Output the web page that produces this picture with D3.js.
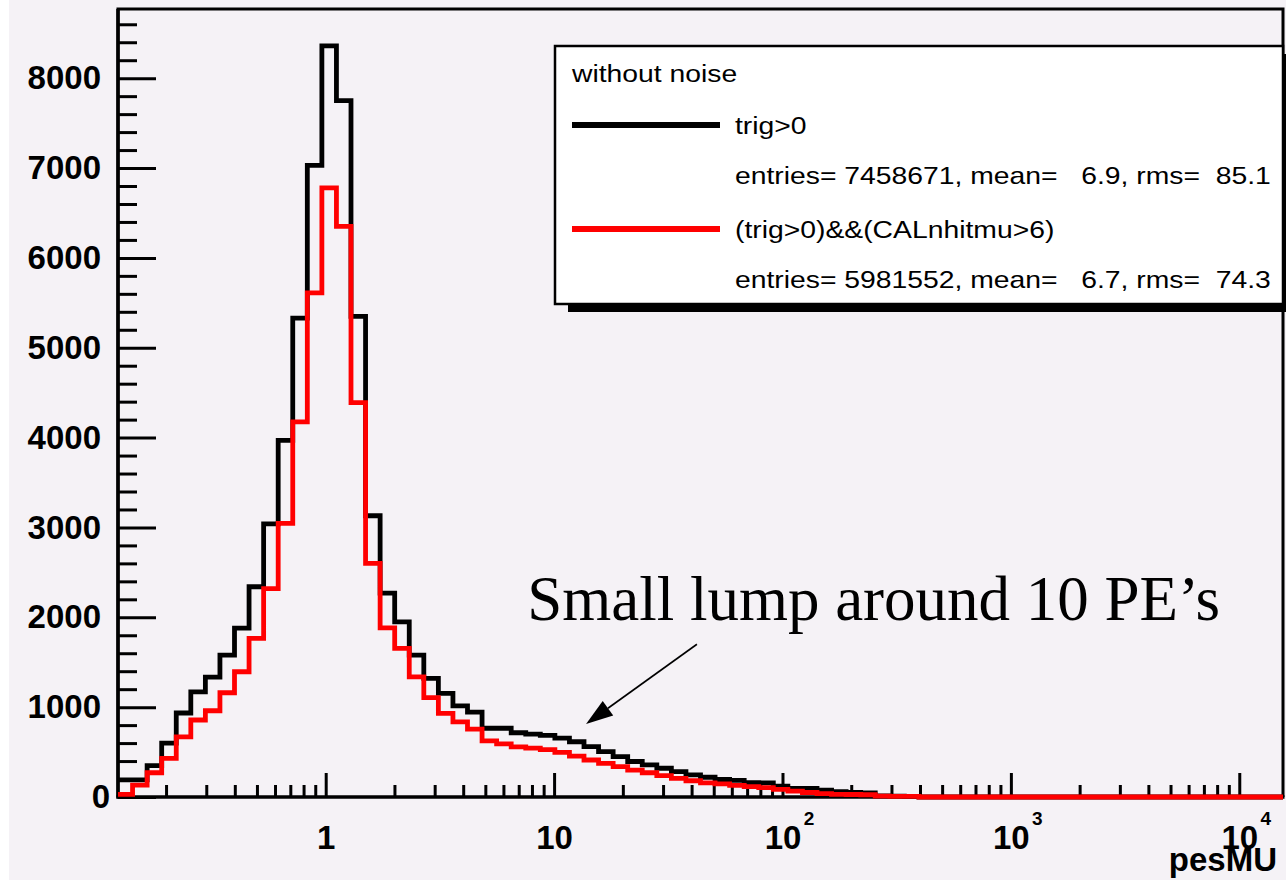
<!DOCTYPE html>
<html><head><meta charset="utf-8">
<script src="https://cdn.jsdelivr.net/npm/d3@7"></script>
<style>
html,body{margin:0;padding:0;background:#fff;}
svg{display:block;}
</style></head><body>
<svg id="chart" width="1286" height="880"></svg>
<script>
// ---------------- data ----------------
const binCount = 80;
const xRange = [0.1232, 15540];           // pesMU histogram range (log bins)
const yMax = 8770;

// bin contents, series "trig>0"
const trigValues = [
  190, 190, 350, 600, 935, 1170, 1335, 1580, 1880, 2340,
  3040, 3970, 5330, 7030, 8360, 7750, 5350, 3130, 2270, 1950,
  1580, 1320, 1153, 1015, 945, 765, 765, 715, 700, 685,
  655, 615, 560, 505, 450, 395, 358, 320, 283, 246,
  220, 195, 185, 160, 158, 122, 97, 95, 75, 60,
  52, 45, 12, 10, 8, 0, 0, 0, 0, 0,
  0, 0, 0, 0, 0, 0, 0, 0, 0, 0,
  0, 0, 0, 0, 0, 0, 0, 0, 0, 0
];
// bin contents, series "(trig>0)&&(CALnhitmu>6)"
const calValues = [
  30, 133, 270, 430, 670, 857, 960, 1160, 1394, 1765,
  2320, 3045, 4175, 5610, 6780, 6350, 4390, 2600, 1883, 1654,
  1338, 1105, 931, 835, 755, 625, 592, 557, 543, 527,
  497, 456, 412, 375, 337, 300, 270, 237, 208, 181,
  158, 145, 130, 115, 105, 85, 65, 50, 38, 30,
  28, 25, 10, 8, 6, 0, 0, 0, 0, 0,
  0, 0, 0, 0, 0, 0, 0, 0, 0, 0,
  0, 0, 0, 0, 0, 0, 0, 0, 0, 0
];

const yTickValues = [0, 1000, 2000, 3000, 4000, 5000, 6000, 7000, 8000];
const yMinorStep = 200;
const xTickValues = [1, 10, 100, 1000, 10000];
const xTickLabels = ["1", "10", "10", "10", "10"];
const xTickExponents = ["", "", "2", "3", "4"];
const xTitle = "pesMU";

const legendTitle = "without noise";
const seriesNames = ["trig>0", "(trig>0)&&(CALnhitmu>6)"];
const seriesStats = [
  "entries= 7458671, mean=   6.9, rms=  85.1",
  "entries= 5981552, mean=   6.7, rms=  74.3"
];
const seriesColors = ["#000000", "#ff0000"];

const annotationText = "Small lump around 10 PE\u2019s";
const annotationTextAt = [7.62, 1975];     // data coords of text start (baseline)
const arrowFrom = [42.2, 1700];            // data coords
const arrowTo = [13.8, 812];

// ---------------- layout ----------------
const W = 1286, H = 880;
const frame = {left: 118, right: 1283, top: 9, bottom: 797};
const SANS = "'Liberation Sans',Arial,Helvetica,sans-serif";
const SERIF = "'Liberation Serif','Times New Roman',Times,serif";

const svg = d3.select("#chart");
svg.append("rect").attr("x", 9).attr("y", 0).attr("width", W - 9).attr("height", H)
  .attr("fill", "#f5f2f6");

const x = d3.scaleLog().domain(xRange).range([frame.left, frame.right]);
const y = d3.scaleLinear().domain([0, yMax]).range([frame.bottom, frame.top]);

// bin edges (uniform in log)
const edges = d3.range(binCount + 1).map(k =>
  xRange[0] * Math.pow(xRange[1] / xRange[0], k / binCount));

svg.append("clipPath").attr("id", "clipFrame").append("rect")
  .attr("x", frame.left).attr("y", frame.top)
  .attr("width", frame.right - frame.left).attr("height", frame.bottom - frame.top + 3);

// ---------------- axes ----------------
const axisFont = 33;
// y major
const yAxisG = svg.append("g").attr("transform", `translate(${frame.left},0)`)
  .call(d3.axisLeft(y).tickValues(yTickValues).tickSize(-38).tickPadding(17).tickFormat(d3.format("d")));
yAxisG.select(".domain").remove();
yAxisG.selectAll(".tick line").attr("stroke", "#000").attr("stroke-width", 3);
yAxisG.selectAll(".tick text").attr("font-size", axisFont).attr("font-weight", "bold")
  .attr("fill", "#000").style("font-family", SANS)
  .attr("dx", d => d === 0 ? 9 : 0);
// y minor
const yMinor = d3.range(0, yMax, yMinorStep).filter(v => v % 1000 !== 0);
const yMinorG = svg.append("g").attr("transform", `translate(${frame.left},0)`)
  .call(d3.axisLeft(y).tickValues(yMinor).tickSize(-19).tickFormat(""));
yMinorG.select(".domain").remove();
yMinorG.selectAll(".tick line").attr("stroke", "#000").attr("stroke-width", 3);

// x major
const xAxisG = svg.append("g").attr("transform", `translate(0,${frame.bottom})`)
  .call(d3.axisBottom(x).tickValues(xTickValues).tickSize(-24).tickPadding(29)
    .tickFormat((d, i) => xTickLabels[i]));
xAxisG.select(".domain").remove();
xAxisG.selectAll(".tick line").attr("stroke", "#000").attr("stroke-width", 3);
xAxisG.selectAll(".tick text").attr("font-size", axisFont).attr("font-weight", "bold")
  .attr("fill", "#000").style("font-family", SANS);
xAxisG.selectAll(".tick").each(function(d, i) {
  if (xTickExponents[i]) {
    d3.select(this).append("text").text(xTickExponents[i])
      .attr("x", 26).attr("y", 28).attr("text-anchor", "middle")
      .attr("font-size", 19).attr("font-weight", "bold").attr("fill", "#000")
      .style("font-family", SANS);
  }
});
// x minor
const xMinor = [];
[0.1, 1, 10, 100, 1000, 10000].forEach(dec => {
  for (let m = 2; m <= 9; m++) {
    const v = m * dec;
    if (v > xRange[0] && v < xRange[1]) xMinor.push(v);
  }
});
const xMinorG = svg.append("g").attr("transform", `translate(0,${frame.bottom})`)
  .call(d3.axisBottom(x).tickValues(xMinor).tickSize(-12).tickFormat(""));
xMinorG.select(".domain").remove();
xMinorG.selectAll(".tick line").attr("stroke", "#000").attr("stroke-width", 3);

// frame
svg.append("path")
  .attr("d", `M${frame.left},${frame.bottom}V${frame.top}H${frame.right}V${frame.bottom}`)
  .attr("fill", "none").attr("stroke", "#000").attr("stroke-width", 3);
svg.append("line").attr("x1", frame.left - 1.5).attr("x2", frame.right + 1.5)
  .attr("y1", frame.bottom).attr("y2", frame.bottom).attr("stroke", "#000").attr("stroke-width", 3.5);
svg.append("line").attr("x1", frame.left).attr("x2", frame.left)
  .attr("y1", frame.top).attr("y2", frame.bottom + 1.5).attr("stroke", "#000").attr("stroke-width", 3.5);

// ---------------- histograms (drawn over axis line, as in reference) ----------------
const stepLine = d3.line().curve(d3.curveStepAfter).x(d => x(d[0])).y(d => y(d[1]));
function histPoints(vals) {
  const pts = vals.map((v, i) => [edges[i], v]);
  pts.push([edges[binCount], vals[binCount - 1]]);
  return pts;
}
const histG = svg.append("g").attr("clip-path", "url(#clipFrame)");
[trigValues, calValues].forEach((vals, i) => {
  histG.append("path").attr("d", stepLine(histPoints(vals)))
    .attr("fill", "none").attr("stroke", seriesColors[i])
    .attr("stroke-width", 4.8).attr("stroke-linejoin", "miter").attr("stroke-linecap", "square");
});

// x title
svg.append("text").text(xTitle).attr("x", 1277).attr("y", 871).attr("text-anchor", "end")
  .attr("font-size", 33).attr("font-weight", "bold").attr("fill", "#000").style("font-family", SANS);

// ---------------- legend ----------------
const leg = {x: 555, y: 46, w: 728, h: 258};
svg.append("rect").attr("x", leg.x + 13).attr("y", leg.y + 8).attr("width", leg.w).attr("height", leg.h)
  .attr("fill", "#000");
svg.append("rect").attr("x", leg.x).attr("y", leg.y).attr("width", leg.w).attr("height", leg.h)
  .attr("fill", "#fff").attr("stroke", "#000").attr("stroke-width", 2.5);

const legFont = 24, legStretch = 1.18;
function legText(str, tx, ty) {
  svg.append("text").text(str)
    .attr("transform", `translate(${tx},${ty}) scale(${legStretch},1)`)
    .attr("font-size", legFont).attr("fill", "#000")
    .style("font-family", SANS)
    .style("white-space", "pre");
}
legText(legendTitle, 572, 82);
const rowY = [125, 229];
seriesNames.forEach((name, i) => {
  svg.append("line").attr("x1", 572).attr("x2", 720).attr("y1", rowY[i]).attr("y2", rowY[i])
    .attr("stroke", seriesColors[i]).attr("stroke-width", 6);
  legText(name, 735, rowY[i] + 9);
  legText(seriesStats[i], 735, rowY[i] + 59);
});

// ---------------- annotation ----------------
svg.append("text").text(annotationText)
  .attr("x", x(annotationTextAt[0])).attr("y", y(annotationTextAt[1]))
  .style("font-family", SERIF)
  .attr("font-size", 63).attr("fill", "#000");
const ax0 = x(arrowFrom[0]), ay0 = y(arrowFrom[1]);
const ax1 = x(arrowTo[0]), ay1 = y(arrowTo[1]);
const ang = Math.atan2(ay1 - ay0, ax1 - ax0);
const headLen = 27, headHalf = 9;
const bx = ax1 - headLen * Math.cos(ang), by = ay1 - headLen * Math.sin(ang);
svg.append("line").attr("x1", ax0).attr("y1", ay0).attr("x2", bx).attr("y2", by)
  .attr("stroke", "#000").attr("stroke-width", 1.6);
svg.append("polygon").attr("points", [
  [ax1, ay1],
  [bx + headHalf * Math.sin(ang), by - headHalf * Math.cos(ang)],
  [bx - headHalf * Math.sin(ang), by + headHalf * Math.cos(ang)]
].map(p => p.join(",")).join(" ")).attr("fill", "#000");
</script>
</body></html>
